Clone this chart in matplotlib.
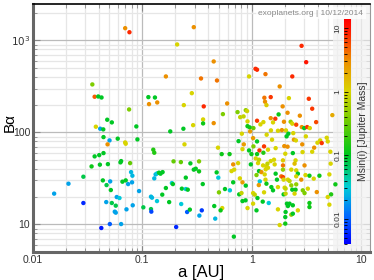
import numpy as np
import matplotlib
matplotlib.use("Agg")
import matplotlib.pyplot as plt
from matplotlib.colors import LinearSegmentedColormap, LogNorm
from matplotlib.ticker import FixedLocator, FixedFormatter, LogLocator, NullFormatter
from matplotlib.patches import Rectangle

plt.rcParams['font.family'] = ['Liberation Sans', 'DejaVu Sans']

# log10 of semi-major axis [AU]
log10_a = [
 -1.157,-1.118,-0.682,-0.530,0.455,
 -1.457,-1.436,-1.403,-1.373,-0.785,-0.945,-0.885,-0.939,-0.864,-0.621,-1.121,-1.321,-1.279,-1.425,-1.385,
 -1.357,-1.055,-0.745,-0.625,-1.355,-1.300,-1.225,-1.045,-0.548,-0.536,
 -1.318,-1.157,-1.152,-0.900,-0.891,-0.615,-1.436,-1.394,-1.355,-1.464,-1.388,-1.315,-1.200,-1.194,-1.112,
 -0.715,-0.648,-1.539,-1.361,-1.294,-1.327,-1.288,-1.182,-1.152,-1.130,-1.103,-1.091,-1.094,-1.675,-1.806,
 -1.539,-1.330,-1.279,-1.234,-1.209,-1.243,-1.252,-1.243,-1.145,-1.088,-1.030,-0.991,-0.921,-0.912,-0.921,
 -0.918,-0.866,-0.879,-0.866,-0.891,-0.848,-0.834,-0.815,-0.785,-0.818,-0.755,-0.730,-0.721,-0.639,-0.645,
 -0.603,-0.603,-0.591,-1.297,-1.194,-1.375,-0.691,-0.566,-0.561,-0.530,-0.585,
 -0.348,0.034,0.048,0.125,-0.464,-0.318,-0.025,-0.439,-0.225,0.115,0.173,0.121,0.134,-0.445,-0.445,
 -0.348,-0.264,-0.130,-0.055,-0.043,-0.106,-0.075,-0.039,-0.039,-0.018,0.015,0.048,0.079,0.106,0.173,
 0.194,-0.015,0.136,0.185,-0.121,-0.073,0.012,0.048,0.112,0.070,0.015,-0.025,-0.309,-0.085,-0.275,
 -0.203,-0.003,0.048,0.106,0.148,-0.091,
 0.497,0.370,0.255,0.339,0.521,0.282,0.552,0.327,0.245,0.215,0.439,0.294,0.355,0.370,0.588,
 0.406,0.457,0.479,0.506,0.530,0.736,0.175,0.239,0.275,0.312,0.334,0.379,0.385,0.403,0.494,
 0.625,0.600,0.639,0.685,0.694,0.218,0.297,0.327,0.461,0.570,0.552,0.718,0.375,0.464,0.306,0.318,
 -0.482,-0.512,-0.482,-0.170,-0.125,-0.009,0.057,0.103,0.134,0.036,0.066,0.143,0.173,-0.185,-0.161,
 -0.321,-0.306,0.043,0.066,0.088,0.118,0.127,0.148,-0.448,-0.170,-0.109,-0.085,-0.055,0.073,0.064,
 0.125,0.134,0.179,-0.300,-0.245,-0.200,-0.115,-0.094,0.012,0.027,0.112,0.052,-0.057,-0.085,0.012,
 0.100,0.155,-0.343,-0.270,-0.285,-0.039,0.043,-0.457,-0.479,-0.334,-0.164,
 0.203,0.209,0.285,0.285,0.400,0.391,0.482,0.721,0.285,0.361,0.406,0.218,0.270,0.285,0.421,
 0.491,0.527,0.566,0.618,0.709,0.230,0.291,0.330,0.345,0.406,0.452,0.194,0.239,0.300,0.309,
 0.361,0.406,0.370,0.400,0.466,0.482,0.512,0.594,0.764,0.291,0.309,0.391,0.694,0.725,0.321,
 0.345,0.330,0.375,0.527,0.527,0.709,0.239,0.309,0.361,0.375,0.421,0.306,0.255,0.306,
]

# log10 of the y quantity
log10_y = [
 3.134,3.090,2.957,3.145,2.942,
 2.522,2.388,2.391,2.380,2.609,2.384,2.380,2.308,2.326,2.297,2.250,2.138,2.109,2.062,2.040,
 2.033,2.065,2.011,2.040,1.949,1.913,1.932,1.924,2.427,2.079,
 1.870,1.891,1.877,1.812,1.779,1.870,1.739,1.753,1.775,1.630,1.649,1.655,1.674,1.688,1.666,
 1.685,1.677,1.518,1.478,1.467,1.427,1.373,1.464,1.478,1.438,1.568,1.529,1.457,1.442,1.334,
 1.232,1.242,1.232,1.297,1.286,1.203,1.138,1.127,1.163,1.207,1.362,1.185,1.301,1.290,1.166,
 1.138,1.253,1.543,1.554,1.500,1.562,1.551,1.568,1.395,1.323,1.242,1.449,1.438,1.388,1.221,
 1.384,1.508,1.134,1.003,1.003,0.960,0.971,1.160,1.663,1.595,1.377,
 2.772,2.692,2.682,2.634,2.587,2.565,2.609,2.283,2.315,2.377,2.384,2.334,2.297,2.141,2.098,
 2.101,2.199,2.221,2.242,2.232,2.166,2.174,2.120,2.068,2.054,2.047,2.127,2.087,2.112,2.155,
 2.109,2.011,1.975,1.921,1.905,1.870,1.938,1.902,1.848,1.804,1.848,1.804,1.834,1.818,1.764,
 1.764,1.764,1.764,1.779,1.812,1.986,
 2.764,2.609,2.500,2.373,2.366,2.283,2.258,2.214,2.196,2.149,2.182,2.116,2.116,2.095,2.112,
 2.084,2.058,2.047,2.058,2.047,2.188,2.022,2.018,2.025,2.022,1.986,1.992,1.921,1.913,1.957,
 1.913,1.888,1.884,1.942,1.902,1.829,1.851,1.845,1.870,1.834,1.790,1.790,1.775,1.786,1.768,1.957,
 1.685,1.605,1.576,1.652,1.666,1.652,1.666,1.641,1.630,1.717,1.703,1.660,1.688,1.579,1.595,
 1.565,1.508,1.536,1.579,1.568,1.543,1.598,1.616,1.438,1.457,1.500,1.457,1.421,1.467,1.427,
 1.486,1.442,1.405,1.348,1.384,1.370,1.326,1.340,1.340,1.323,1.348,1.286,1.261,1.253,1.225,
 1.247,1.232,1.199,1.177,1.152,1.177,1.152,1.152,1.095,1.062,0.866,
 1.703,1.652,1.641,1.696,1.696,1.660,1.641,1.660,1.595,1.595,1.587,1.551,1.522,1.514,1.551,
 1.536,1.529,1.497,1.529,1.543,1.486,1.486,1.486,1.471,1.522,1.486,1.370,1.405,1.399,1.388,
 1.424,1.435,1.377,1.377,1.370,1.340,1.388,1.351,1.435,1.326,1.334,1.334,1.297,1.326,1.225,
 1.225,1.199,1.207,1.232,1.188,1.214,1.163,1.134,1.105,1.116,1.152,1.008,0.992,1.079,
]

# Msin(i) [Jupiter Mass]
msini = [
 3,8,1,3,8,
 0.4,5,0.1,0.1,3,0.1,0.1,3,3,1,0.4,0.1,0.1,1,0.02,
 0.1,0.1,0.1,0.1,0.1,0.02,0.1,0.1,1,1,
 3,1,1,0.15,0.15,1,0.1,0.1,0.1,0.12,0.1,0.1,0.1,0.1,0.3,
 0.3,0.3,0.08,0.1,0.02,0.08,0.1,0.1,0.1,0.02,0.025,0.025,0.02,0.02,0.02,
 0.006,0.02,0.08,0.02,0.03,0.08,0.02,0.02,0.02,0.02,0.02,0.08,0.025,0.025,0.08,
 0.008,0.03,0.025,0.03,0.025,0.1,0.1,0.1,0.1,0.1,0.1,0.03,0.1,0.1,0.03,
 0.03,0.1,0.01,0.01,0.02,0.005,0.006,0.1,0.1,0.1,0.1,
 3,8,8,4,4,4,1,8,3,4,7,3,1.2,1,0.12,
 3,0.4,0.4,0.5,0.9,0.8,0.8,1,0.12,0.12,0.3,7,1,1,3,
 1,2.5,1,1,0.1,2.5,2.5,0.1,7,7,0.4,0.1,1,1,0.12,
 0.12,0.12,0.12,0.15,1,1,
 10,8,3,1,7,3,7,3,0.12,7,3,3,0.5,1,6,
 6,3,0.1,7,1,2,1,1,3,1,0.1,1,2.5,1,1,
 1,1,7,1,1,1,3,3,3,3,1,1,0.1,1,1,0.1,
 0.4,0.1,0.12,3,1,0.1,1,1,1,1,0.8,0.8,1,1,1,
 0.1,0.03,0.4,0.1,3,1,1,1,0.1,0.1,1,2.5,0.1,0.03,2.5,
 1,0.12,0.1,0.4,0.1,0.03,0.1,0.8,1,0.8,1,0.1,0.1,0.1,1,
 0.1,0.03,0.1,1,0.12,1,0.1,0.007,0.02,0.025,0.1,
 1,1,4,1.2,1,1.5,3,1,0.5,1,1,0.1,4,6,0.1,
 1,0.12,1,0.12,1,0.1,1,1,0.8,1,3,0.1,1,1,0.8,
 0.5,0.5,0.1,0.12,0.4,0.4,1,3,0.12,0.1,0.8,1,1,0.15,0.1,
 0.1,0.1,0.1,0.12,0.12,1,1,0.1,0.5,0.1,1,0.12,1,0.1,
]

x_ticks = [0.01, 0.1, 1, 10]
x_ticklabels = ['0.01', '0.1', '1', '10']
y_ticks = [10, 100, 1000]
y_ticklabels = ['10', '100', r'$10^3$']
cb_ticks = [0.01, 0.1, 1, 10]
cb_ticklabels = ['0.01', '0.1', '1', '10']

a = 10 ** np.array(log10_a)
yv = 10 ** np.array(log10_y)
m = np.array(msini)

cmap = LinearSegmentedColormap.from_list('exo', [
    (0.0, (0.0, 0.0, 1.0)),
    (0.12, (0.0, 0.4, 1.0)),
    (0.25, (0.0, 0.8, 0.85)),
    (0.40, (0.0, 0.78, 0.1)),
    (0.55, (0.45, 0.8, 0.0)),
    (0.68, (0.85, 0.83, 0.0)),
    (0.82, (0.93, 0.55, 0.0)),
    (0.95, (1.0, 0.1, 0.0)),
    (1.0, (1.0, 0.0, 0.0)),
])
norm = LogNorm(vmin=0.004, vmax=14)

fig = plt.figure(figsize=(3.74, 2.80), dpi=100)
ax = fig.add_axes([0.088, 0.1, 0.901, 0.886])
ax.set_xscale('log')
ax.set_yscale('log')
ax.set_xlim(0.01, 12)
ax.set_ylim(5, 2500)

ax.grid(True, which='major', color='#bbbbbb', lw=0.9, zorder=0)
ax.grid(True, which='minor', color='#e6e6e6', lw=0.9, zorder=0)
ax.set_axisbelow(True)

ax.scatter(a, yv, c=m, cmap=cmap, norm=norm, s=10, linewidths=0, zorder=3)

ax.xaxis.set_major_locator(FixedLocator(x_ticks))
ax.xaxis.set_major_formatter(FixedFormatter(x_ticklabels))
ax.yaxis.set_major_locator(FixedLocator(y_ticks))
ax.yaxis.set_major_formatter(FixedFormatter(y_ticklabels))
ax.xaxis.set_minor_locator(LogLocator(base=10, subs=np.arange(2, 10)))
ax.yaxis.set_minor_locator(LogLocator(base=10, subs=np.arange(2, 10)))
ax.xaxis.set_minor_formatter(NullFormatter())
ax.yaxis.set_minor_formatter(NullFormatter())
ax.tick_params(which='both', direction='in', top=True, right=True,
               color='#888888', labelsize=7.5, labelcolor='#333333')
ax.tick_params(which='major', length=5, width=0.8)
ax.tick_params(which='minor', length=3, width=0.6)
ax.tick_params(axis='x', pad=2)
ax.tick_params(axis='y', pad=2)

for side in ['left', 'bottom']:
    ax.spines[side].set_color('#666666')
    ax.spines[side].set_linewidth(2.2)
ax.spines['top'].set_color('black')
ax.spines['top'].set_linewidth(1.2)
ax.spines['right'].set_color('#999999')
ax.spines['right'].set_linewidth(0.8)

ax.set_xlabel('a [AU]', fontsize=12, labelpad=0)
ax.set_ylabel('Bα', fontsize=11)
ax.yaxis.set_label_coords(-0.047, 0.52)

# light panel behind colorbar
ax.add_patch(Rectangle((0.89, 0.0), 0.11, 1.0, transform=ax.transAxes,
                       facecolor='#f2f2f2', alpha=0.75, edgecolor='none', zorder=2))

cax = fig.add_axes([0.920, 0.1286, 0.0187, 0.8036])
sm = plt.cm.ScalarMappable(norm=norm, cmap=cmap)
cb = fig.colorbar(sm, cax=cax)
cb.outline.set_visible(False)
cax.yaxis.set_ticks_position('left')
cax.yaxis.set_label_position('right')
cax.set_yticks(cb_ticks)
cax.set_yticklabels(cb_ticklabels, rotation=90, va='center')
cax.tick_params(which='both', direction='in', color='black', labelsize=6, pad=2,
                labelcolor='#333333')
cax.tick_params(which='major', length=3, width=0.6)
cax.tick_params(which='minor', length=2, width=0.6)
cb.set_label('Msin(i) [Jupiter Mass]', fontsize=7.5, labelpad=5, color='#333333')

# watermark on top of everything (figure-level text)
fig.text(0.971, 0.953, 'exoplanets.org | 10/12/2014',
         ha='right', va='center', fontsize=6, color='#888888', zorder=10,
         bbox=dict(facecolor='white', alpha=0.7, edgecolor='none', pad=2))

plt.savefig('out.png', dpi=100)
